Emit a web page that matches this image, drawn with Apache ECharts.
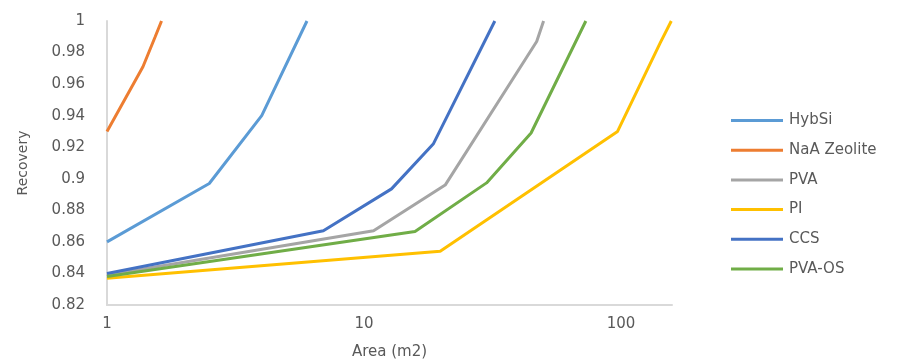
<!DOCTYPE html>
<html>
<head>
<meta charset="utf-8">
<style>
  html, body { margin: 0; padding: 0; background: #ffffff; }
  #chart { width: 904px; height: 362px; }
</style>
<script src="https://cdn.jsdelivr.net/npm/echarts@6/dist/echarts.min.js"></script>
</head>
<body>
<div id="chart"></div>
<script>
// Membrane area (m2) needed for each recovery level
const seriesNames = ['HybSi', 'NaA Zeolite', 'PVA', 'PI', 'CCS', 'PVA-OS'];
const seriesColors = ['#5B9BD5', '#ED7D31', '#A5A5A5', '#FFC000', '#4472C4', '#70AD47'];

const hybsiArea = [1, 2.5, 4.0, 6.0];
const hybsiRecovery = [0.860, 0.897, 0.940, 1.0];

const naaArea = [1, 1.38, 1.54, 1.63];
const naaRecovery = [0.930, 0.971, 0.990, 1.0];

const pvaArea = [1, 10.9, 20.7, 47, 50];
const pvaRecovery = [0.839, 0.867, 0.896, 0.987, 1.0];

const piArea = [1, 19.8, 97, 142, 157];
const piRecovery = [0.837, 0.854, 0.930, 0.986, 1.0];

const ccsArea = [1, 6.95, 12.8, 18.6, 32.3];
const ccsRecovery = [0.840, 0.867, 0.8936, 0.922, 1.0];

const pvaosArea = [1, 15.8, 30, 44.7, 73];
const pvaosRecovery = [0.838, 0.8666, 0.8974, 0.929, 1.0];

const xTickLabels = ['1', '10', '100'];
const yTickLabels = ['0.82', '0.84', '0.86', '0.88', '0.9', '0.92', '0.94', '0.96', '0.98', '1'];

const areaSets = [hybsiArea, naaArea, pvaArea, piArea, ccsArea, pvaosArea];
const recoverySets = [hybsiRecovery, naaRecovery, pvaRecovery, piRecovery, ccsRecovery, pvaosRecovery];

const pairUp = (xs, ys) => xs.map((x, i) => [x, ys[i]]);

const textColor = '#595959';
const axisColor = '#D9D9D9';
const font = 'DejaVu Sans';

const chart = echarts.init(document.getElementById('chart'), null, { renderer: 'canvas' });

chart.setOption({
  animation: false,
  backgroundColor: '#ffffff',
  grid: { left: 107, right: 232, top: 21, bottom: 57, containLabel: false, outerBoundsMode: 'none' },
  xAxis: {
    type: 'log',
    logBase: 10,
    min: 1,
    max: 158,
    name: 'Area (m2)',
    nameLocation: 'middle',
    nameGap: 40,
    nameTextStyle: { color: textColor, fontFamily: font, fontSize: 15 },
    axisLine: { show: true, lineStyle: { color: axisColor, width: 2 } },
    axisTick: { show: false },
    splitLine: { show: false },
    axisLabel: {
      color: textColor, fontFamily: font, fontSize: 15, margin: 12,
      showMaxLabel: false,
      formatter: v => (xTickLabels.includes(String(Math.round(v))) ? String(Math.round(v)) : '')
    }
  },
  yAxis: {
    type: 'value',
    min: 0.82,
    max: 1,
    interval: 0.02,
    name: 'Recovery',
    nameLocation: 'middle',
    nameGap: 77,
    nameTextStyle: { color: textColor, fontFamily: font, fontSize: 14 },
    axisLine: { show: true, lineStyle: { color: axisColor, width: 2 } },
    axisTick: { show: false },
    splitLine: { show: false },
    axisLabel: {
      color: textColor, fontFamily: font, fontSize: 15, margin: 22,
      formatter: v => {
        const idx = Math.round((v - 0.82) / 0.02);
        return yTickLabels[idx] !== undefined ? yTickLabels[idx] : '';
      }
    }
  },
  legend: {
    orient: 'vertical',
    left: 726,
    top: 108,
    icon: 'rect',
    itemWidth: 52,
    itemHeight: 3,
    itemGap: 14.7,
    textStyle: { color: textColor, fontFamily: font, fontSize: 15, padding: [0, 0, 0, 1] },
    data: seriesNames
  },
  series: seriesNames.map((name, i) => ({
    name: name,
    type: 'line',
    data: pairUp(areaSets[i], recoverySets[i]),
    symbol: 'none',
    smooth: false,
    clip: true,
    color: seriesColors[i],
    lineStyle: { color: seriesColors[i], width: 3 }
  }))
});
</script>
</body>
</html>
